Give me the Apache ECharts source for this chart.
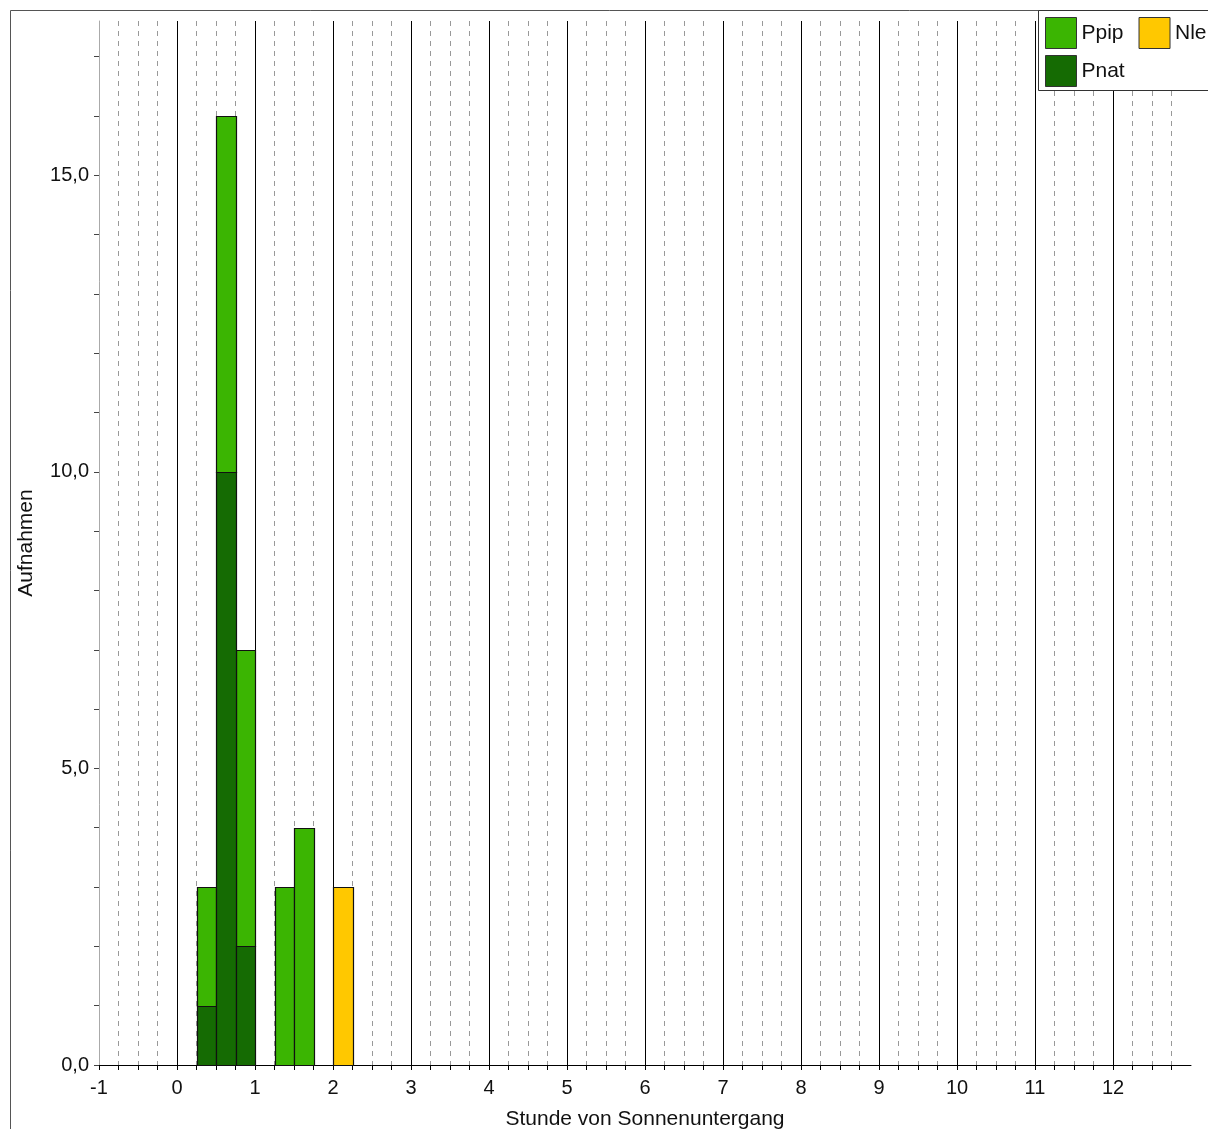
<!DOCTYPE html>
<html>
<head>
<meta charset="utf-8">
<title>Aufnahmen nach Stunde von Sonnenuntergang</title>
<script src="https://cdn.jsdelivr.net/npm/echarts@6/dist/echarts.min.js"></script>
<style>
  html, body { margin: 0; padding: 0; background: #fff; }
  #chart { width: 1208px; height: 1129px; }
</style>
</head>
<body>
<div id="chart"></div>
<script>
// Quarter-hour bins (start of each bin, in hours after sunset)
const binStart = [0.25, 0.5, 0.75, 1.25, 1.5, 2.0];
const binWidth = 0.25;
// Recordings per species in each bin
const pnat = [1, 10, 2, 0, 0, 0];
const ppip = [2, 6, 5, 3, 4, 0];
const nle  = [0, 0, 0, 0, 0, 3];

// Axis tick / label positions
const xLabelValues = [-1, 0, 1, 2, 3, 4, 5, 6, 7, 8, 9, 10, 11, 12];
const yTickValues = [0, 1, 2, 3, 4, 5, 6, 7, 8, 9, 10, 11, 12, 13, 14, 15, 16, 17];
const yLabelValues = [0, 5, 10, 15];

const FONT = '"Liberation Sans", Arial, Helvetica, sans-serif';

// Stack the species in order: Pnat at the bottom, then Ppip, then Nle
const stackOrder = [
  { name: 'Pnat', values: pnat, color: '#156b03' },
  { name: 'Ppip', values: ppip, color: '#3bb502' },
  { name: 'Nle',  values: nle,  color: '#ffc800' }
];
const base = binStart.map(() => 0);
const seriesData = {};
stackOrder.forEach(s => {
  seriesData[s.name] = [];
  binStart.forEach((x, i) => {
    const v = s.values[i];
    if (v > 0) {
      seriesData[s.name].push([x, x + binWidth, base[i], base[i] + v]);
      base[i] += v;
    }
  });
});

function renderBar(params, api) {
  const topLeft = api.coord([api.value(0), api.value(3)]);
  const bottomRight = api.coord([api.value(1), api.value(2)]);
  return {
    type: 'rect',
    shape: {
      x: Math.round(topLeft[0]) + 0.5,
      y: Math.round(topLeft[1]) + 0.5,
      width: Math.round(bottomRight[0]) - Math.round(topLeft[0]),
      height: Math.round(bottomRight[1]) - Math.round(topLeft[1])
    },
    style: { fill: api.visual('color'), stroke: '#111', lineWidth: 1.2 }
  };
}

const chart = echarts.init(document.getElementById('chart'), null, { renderer: 'canvas' });

chart.setOption({
  animation: false,
  backgroundColor: '#fff',
  textStyle: { fontFamily: FONT },
  grid: { left: 99, top: 21, right: 17, bottom: 64, containLabel: false, outerBoundsMode: 'none' },
  graphic: [
    {
      type: 'rect', z: -1, silent: true,
      shape: { x: 10.5, y: 10.5, width: 1400, height: 1400 },
      style: { fill: 'none', stroke: '#555', lineWidth: 1 }
    },
    {
      type: 'rect', z: 50, silent: true,
      shape: { x: 1038.5, y: 10.5, width: 300, height: 80 },
      style: { fill: '#fff', stroke: '#333', lineWidth: 1 }
    }
  ],
  legend: [
    {
      z: 60,
      left: 1045, top: 17,
      orient: 'horizontal',
      data: ['Ppip', 'Nle'],
      icon: 'rect',
      itemWidth: 31, itemHeight: 31, itemGap: 15,
      padding: 0,
      itemStyle: { borderColor: '#333', borderWidth: 1 },
      textStyle: { fontFamily: FONT, fontSize: 21, color: '#111' }
    },
    {
      z: 60,
      left: 1045, top: 55,
      orient: 'horizontal',
      data: ['Pnat'],
      icon: 'rect',
      itemWidth: 31, itemHeight: 31,
      padding: 0,
      itemStyle: { borderColor: '#333', borderWidth: 1 },
      textStyle: { fontFamily: FONT, fontSize: 21, color: '#111' }
    }
  ],
  xAxis: {
    type: 'value',
    min: -1, max: 13, interval: 1,
    name: 'Stunde von Sonnenuntergang',
    nameLocation: 'middle',
    nameGap: 44,
    nameTextStyle: { fontFamily: FONT, fontSize: 21, color: '#111' },
    axisLine: { show: true, onZero: false, lineStyle: { color: '#000', width: 1 } },
    axisTick: { show: true, length: 5, customValues: xLabelValues, lineStyle: { color: '#000' } },
    minorTick: { show: true, splitNumber: 4, length: 5, lineStyle: { color: '#000' } },
    axisLabel: {
      customValues: xLabelValues,
      fontFamily: FONT, fontSize: 20, color: '#111', margin: 13,
      formatter: v => String(v)
    },
    splitLine: { show: true, showMinLine: false, showMaxLine: true, lineStyle: { color: '#000', width: 1 } },
    minorSplitLine: { show: true, lineStyle: { color: '#999', width: 1, type: [5, 5] } }
  },
  yAxis: {
    type: 'value',
    min: 0, max: 17.6, interval: 1,
    name: 'Aufnahmen',
    nameLocation: 'middle',
    nameRotate: 90,
    nameGap: 62,
    nameTextStyle: { fontFamily: FONT, fontSize: 21, color: '#111' },
    axisLine: { show: true, onZero: false, lineStyle: { color: '#aaa', width: 1 } },
    axisTick: { show: true, length: 5, customValues: yTickValues, lineStyle: { color: '#444' } },
    axisLabel: {
      customValues: yLabelValues,
      fontFamily: FONT, fontSize: 20, color: '#111', margin: 10,
      padding: [5, 0, 0, 0],
      formatter: v => v.toFixed(1).replace('.', ',')
    },
    splitLine: { show: false }
  },
  series: ['Ppip', 'Nle', 'Pnat'].map(name => {
    const s = stackOrder.find(o => o.name === name);
    return {
      type: 'custom',
      name: name,
      renderItem: renderBar,
      itemStyle: { color: s.color, borderColor: '#111', borderWidth: 1 },
      encode: { x: [0, 1], y: [2, 3] },
      data: seriesData[name],
      z: 5
    };
  })
});
</script>
</body>
</html>
